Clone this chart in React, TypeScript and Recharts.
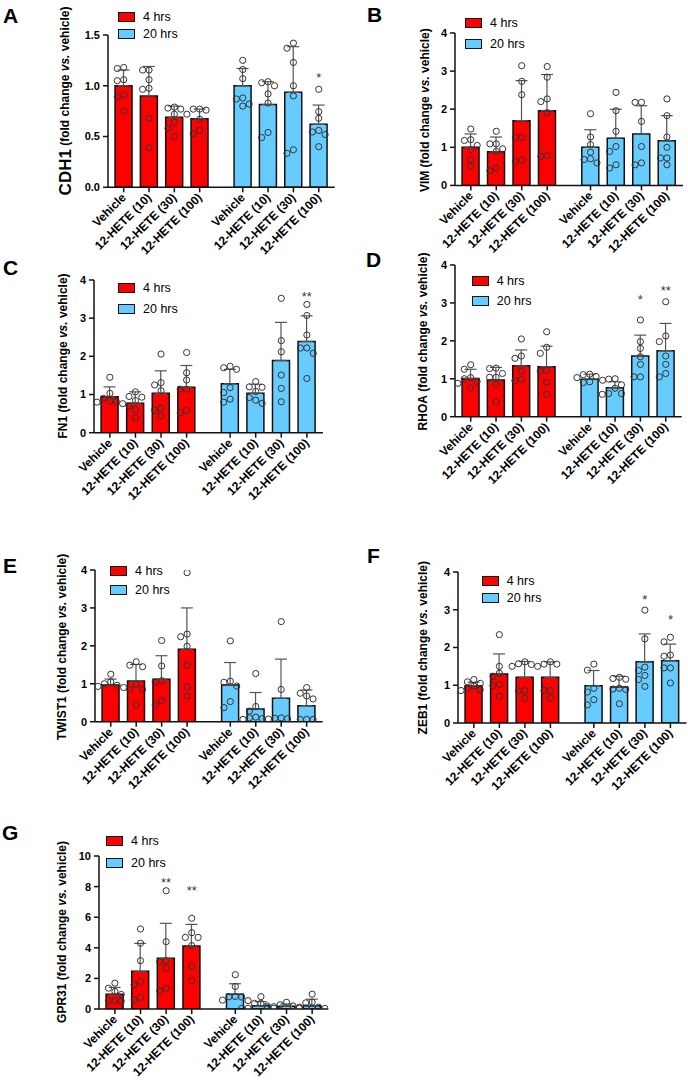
import React from "react";
import {
  ComposedChart,
  Bar,
  Cell,
  ErrorBar,
  Scatter,
  XAxis,
  YAxis,
  Legend,
} from "recharts";

const FONT = '"Liberation Sans", Arial, Helvetica, sans-serif';
const RED = "#ff0000";
const BLUE = "#66ccff";

const groups = ["4 hrs", "20 hrs"];
const doses = [
  "Vehicle",
  "12-HETE (10)",
  "12-HETE (30)",
  "12-HETE (100)",
  "Vehicle",
  "12-HETE (10)",
  "12-HETE (30)",
  "12-HETE (100)",
];

// CDH1
const cdh1Mean = [1.0, 0.9, 0.69, 0.675, 1.0, 0.815, 0.935, 0.62];
const cdh1Sd = [0.155, 0.29, 0.11, 0.095, 0.17, 0.225, 0.45, 0.19];
const cdh1Points = [
  [1.18, 1.17, 1.06, 1.05, 0.91, 0.89, 0.75],
  [1.155, 1.155, 1.06, 0.975, 0.965, 0.68, 0.39],
  [0.79, 0.78, 0.77, 0.72, 0.64, 0.58, 0.5],
  [0.77, 0.77, 0.76, 0.72, 0.67, 0.56, 0.53],
  [1.25, 1.16, 1.07, 0.88, 0.87, 0.82, 0.8],
  [1.04, 1.03, 1.0, 0.92, 0.83, 0.54, 0.49],
  [1.42, 1.37, 1.23, 1.0, 0.9, 0.335, 0.37],
  [0.965, 0.745, 0.68, 0.56, 0.545, 0.52, 0.4],
];
const cdh1Stars = [{ i: 7, v: 1.1, s: "*" }];

// VIM
const vimMean = [1.0, 0.88, 1.7, 1.96, 1.0, 1.24, 1.35, 1.17];
const vimSd = [0.35, 0.39, 1.05, 0.95, 0.46, 0.76, 0.74, 0.66];
const vimPoints = [
  [1.48, 1.2, 1.18, 1.05, 0.94, 0.67, 0.5],
  [1.42, 1.09, 1.09, 0.96, 0.89, 0.455, 0.385],
  [3.14, 2.73, 2.38, 1.26, 1.26, 0.66, 0.63],
  [3.12, 2.84, 2.27, 2.2, 1.91, 0.78, 0.76],
  [1.88, 1.27, 1.07, 0.87, 0.7, 0.68, 0.59],
  [2.44, 1.96, 1.42, 1.02, 0.89, 0.54, 0.455],
  [2.18, 2.18, 1.68, 1.02, 0.59, 0.54],
  [2.27, 1.83, 1.27, 1.0, 0.72, 0.72, 0.54],
];
const vimStars: { i: number; v: number; s: string }[] = [];

// FN1
const fn1Mean = [0.94, 0.77, 1.03, 1.19, 1.28, 1.03, 1.89, 2.39];
const fn1Sd = [0.26, 0.3, 0.59, 0.57, 0.38, 0.24, 1.0, 0.67];
const fn1Points = [
  [1.45, 1.03, 0.9, 0.83, 0.82, 0.8, 0.76],
  [1.07, 0.95, 0.93, 0.84, 0.7, 0.61, 0.39],
  [2.06, 1.31, 1.25, 1.1, 0.64, 0.59, 0.44],
  [2.1, 1.57, 1.38, 1.14, 1.14, 0.58, 0.52],
  [1.74, 1.7, 1.66, 1.18, 1.05, 0.88, 0.8],
  [1.34, 1.2, 1.19, 1.08, 0.92, 0.85, 0.77],
  [3.52, 2.41, 2.12, 1.51, 1.16, 0.81],
  [3.36, 3.07, 2.56, 2.22, 2.22, 2.08, 1.42],
];
const fn1Stars = [{ i: 7, v: 3.62, s: "**" }];

// RHOA
const rhoaMean = [1.01, 0.97, 1.34, 1.32, 0.99, 0.765, 1.6, 1.74];
const rhoaSd = [0.24, 0.33, 0.42, 0.54, 0.13, 0.155, 0.55, 0.72];
const rhoaPoints = [
  [1.37, 1.25, 1.03, 1.0, 0.93, 0.88, 0.76],
  [1.28, 1.27, 1.14, 1.04, 1.04, 0.85, 0.38],
  [2.05, 1.6, 1.54, 1.2, 0.98, 0.95],
  [2.24, 1.83, 1.67, 1.22, 1.2, 0.91, 0.59],
  [1.12, 1.11, 1.06, 1.03, 0.96, 0.92, 0.9],
  [1.0, 0.99, 0.84, 0.75, 0.61, 0.61, 0.59],
  [2.55, 1.98, 1.8, 1.58, 1.38, 1.05, 1.05],
  [3.03, 2.13, 1.98, 1.6, 1.38, 1.14, 1.05],
];
const rhoaStars = [
  { i: 6, v: 3.12, s: "*" },
  { i: 7, v: 3.38, s: "**" },
];

// TWIST1
const twist1Mean = [0.97, 1.07, 1.12, 1.91, 0.97, 0.335, 0.615, 0.42];
const twist1Sd = [0.155, 0.44, 0.62, 1.09, 0.59, 0.435, 1.035, 0.415];
const twist1Points = [
  [1.25, 1.05, 1.0, 0.96, 0.93, 0.9],
  [1.58, 1.49, 1.45, 0.98, 0.85, 0.85, 0.44],
  [2.14, 1.47, 1.08, 1.05, 0.56, 0.44],
  [3.93, 2.31, 2.24, 1.99, 1.49, 0.92, 0.68],
  [2.13, 1.07, 1.04, 0.94, 0.53, 0.37],
  [1.27, 0.4, 0.28, 0.12, 0.1, 0.08, 0.06],
  [2.64, 0.85, 0.1, 0.09, 0.08, 0.07],
  [0.9, 0.75, 0.68, 0.6, 0.06, 0.06, 0.06],
];
const twist1Stars: { i: number; v: number; s: string }[] = [];

// ZEB1
const zeb1Mean = [0.99, 1.3, 1.21, 1.21, 0.99, 0.955, 1.62, 1.65];
const zeb1Sd = [0.09, 0.53, 0.42, 0.41, 0.4, 0.285, 0.74, 0.44];
const zeb1Points = [
  [1.15, 1.09, 1.05, 0.98, 0.92, 0.88, 0.86],
  [2.34, 1.5, 1.32, 1.24, 1.02, 0.99, 0.71],
  [1.62, 1.57, 1.55, 1.5, 0.86, 0.85, 0.66],
  [1.62, 1.56, 1.56, 1.5, 0.86, 0.86, 0.66],
  [1.56, 1.4, 0.92, 0.82, 0.62, 0.48],
  [1.21, 1.18, 1.16, 0.92, 0.9, 0.89, 0.51],
  [2.99, 2.23, 1.48, 1.39, 1.26, 1.15, 0.97],
  [2.27, 2.15, 1.8, 1.77, 1.46, 1.46, 1.06],
];
const zeb1Stars = [
  { i: 6, v: 3.31, s: "*" },
  { i: 7, v: 2.78, s: "*" },
];

// GPR31
const gpr31Mean = [0.97, 2.46, 3.31, 4.12, 0.97, 0.22, 0.18, 0.22];
const gpr31Sd = [0.44, 1.83, 2.29, 1.41, 0.68, 0.26, 0.15, 0.42];
const gpr31Points = [
  [1.69, 1.36, 1.15, 0.95, 0.55, 0.55, 0.5],
  [5.23, 4.3, 3.16, 1.8, 1.58, 0.75, 0.59],
  [7.73, 4.4, 3.16, 3.09, 2.66, 1.35, 1.18],
  [5.93, 4.99, 4.68, 4.68, 4.14, 2.81, 1.85],
  [2.24, 1.47, 0.82, 0.8, 0.78, 0.58, 0.55],
  [0.81, 0.37, 0.37, 0.2, 0.05, 0.04, 0.05],
  [0.44, 0.28, 0.2, 0.15, 0.12, 0.1, 0.08],
  [0.97, 0.45, 0.4, 0.12, 0.05, 0.04, 0.03],
];
const gpr31Stars = [
  { i: 2, v: 8.37, s: "**" },
  { i: 3, v: 7.82, s: "**" },
];

const fourTicks = [0, 1, 2, 3, 4];

// layout
const GAP = 0.7; // extra space between the 4 hrs and 20 hrs groups
const slots = doses.map((_, i) => (i < 4 ? i : i + GAP));
const X_DOMAIN: [number, number] = [-0.62, 3 + GAP + 4 + 0.63];
const YW = 60;
const MT = 30;
const XH = 72;
const MR = 1;
const DOT = 6.4;
const AXIS = { stroke: "#111", strokeWidth: 1.5 };

type Star = { i: number; v: number; s: string };
type Panel = {
  letter: string;
  letterX: number;
  letterY: number;
  gene: string;
  geneSize: number;
  means: number[];
  sds: number[];
  points: number[][];
  stars: Star[];
  yMax: number;
  yTicks: number[];
  decimals: number;
  ax: number;
  yt: number;
  yb: number;
  xe: number;
  labelX: number;
  labelCy: number;
  legX: number;
  legY: number;
  legPitch: number;
};

const panels: Panel[] = [
  { letter: "A", letterX: 3, letterY: 5, gene: "CDH1", geneSize: 17, means: cdh1Mean, sds: cdh1Sd, points: cdh1Points, stars: cdh1Stars, yMax: 1.5, yTicks: [0, 0.5, 1, 1.5], decimals: 1, ax: 108.3, yt: 35, yb: 187.3, xe: 335, labelX: 65, labelCy: 101, legX: 118, legY: 12, legPitch: 16.5 },
  { letter: "B", letterX: 367, letterY: 4, gene: "VIM", geneSize: 12, means: vimMean, sds: vimSd, points: vimPoints, stars: vimStars, yMax: 4, yTicks: fourTicks, decimals: 0, ax: 455, yt: 33.3, yb: 185.7, xe: 683, labelX: 425, labelCy: 110.5, legX: 465, legY: 18, legPitch: 21 },
  { letter: "C", letterX: 3, letterY: 257, gene: "FN1", geneSize: 12, means: fn1Mean, sds: fn1Sd, points: fn1Points, stars: fn1Stars, yMax: 4, yTicks: fourTicks, decimals: 0, ax: 94, yt: 280, yb: 432.7, xe: 323, labelX: 63, labelCy: 356, legX: 118, legY: 283, legPitch: 21 },
  { letter: "D", letterX: 366, letterY: 249, gene: "RHOA", geneSize: 12, means: rhoaMean, sds: rhoaSd, points: rhoaPoints, stars: rhoaStars, yMax: 4, yTicks: fourTicks, decimals: 0, ax: 455, yt: 265, yb: 416.7, xe: 681.7, labelX: 423, labelCy: 341.5, legX: 471.7, legY: 276, legPitch: 20 },
  { letter: "E", letterX: 3, letterY: 555, gene: "TWIST1", geneSize: 12, means: twist1Mean, sds: twist1Sd, points: twist1Points, stars: twist1Stars, yMax: 4, yTicks: fourTicks, decimals: 0, ax: 95, yt: 570, yb: 721.7, xe: 322.7, labelX: 62, labelCy: 647, legX: 110, legY: 566, legPitch: 19 },
  { letter: "F", letterX: 367, letterY: 545, gene: "ZEB1", geneSize: 12, means: zeb1Mean, sds: zeb1Sd, points: zeb1Points, stars: zeb1Stars, yMax: 4, yTicks: fourTicks, decimals: 0, ax: 458, yt: 572.3, yb: 723.3, xe: 686.5, labelX: 423, labelCy: 648, legX: 481.7, legY: 575.7, legPitch: 17.3 },
  { letter: "G", letterX: 2, letterY: 822, gene: "GPR31", geneSize: 12, means: gpr31Mean, sds: gpr31Sd, points: gpr31Points, stars: gpr31Stars, yMax: 10, yTicks: [0, 2, 4, 6, 8, 10], decimals: 0, ax: 99, yt: 856, yb: 1009, xe: 328.3, labelX: 62, labelCy: 932, legX: 106, legY: 836, legPitch: 22 },
];

// spread overlapping dots sideways (pixel offsets), highest value first
function swarm(vals: number[], pxPerVal: number) {
  const placed: { dx: number; y: number }[] = [];
  return [...vals]
    .sort((a, b) => b - a)
    .map((v) => {
      const y = v * pxPerVal;
      for (const k of [0, -1, 1, -2, 2, -3, 3]) {
        const dx = k * DOT;
        if (placed.every((p) => Math.hypot(p.dx - dx, p.y - y) >= DOT)) {
          placed.push({ dx, y });
          return { v, dx };
        }
      }
      return { v, dx: 0 };
    });
}

const XTick = (props: any) => {
  const { x, y, payload } = props;
  let idx = slots.indexOf(payload.value);
  if (idx < 0) idx = payload.index ?? 0;
  const ax = x + 3;
  const ay = y + 4;
  return (
    <text
      x={ax}
      y={ay}
      transform={`rotate(-45 ${ax} ${ay})`}
      textAnchor="end"
      fontSize={12}
      fontWeight="bold"
      fontFamily={FONT}
      fill="#000"
    >
      {doses[idx]}
    </text>
  );
};

const renderDot = (props: any) => (
  <circle
    cx={props.cx + (props.payload?.dx ?? 0)}
    cy={props.cy}
    r={3.1}
    fill="none"
    stroke="#333"
    strokeWidth={1}
  />
);

const renderStar = (props: any) => (
  <text
    x={props.cx}
    y={props.cy + 6}
    textAnchor="middle"
    fontSize={13}
    fontFamily={FONT}
    fill="#333"
  >
    {props.payload?.s}
  </text>
);

function PanelChart({ p }: { p: Panel }) {
  const left = p.ax - YW;
  const top = p.yt - MT;
  const width = p.xe - left + MR;
  const height = p.yb - p.yt + MT + XH;
  const pxPerVal = (p.yb - p.yt) / p.yMax;

  const bars = p.means.map((m, i) => ({ x: slots[i], mean: m, err: [0, p.sds[i]] }));
  const dots = p.points.flatMap((vals, i) =>
    swarm(vals, pxPerVal).map((d) => ({ x: slots[i], v: d.v, dx: d.dx }))
  );
  const stars = p.stars.map((s) => ({ x: slots[s.i], v: s.v, s: s.s }));

  const lx = p.labelX - left;
  const ly = p.labelCy - top;
  const yLabel = () => (
    <text
      x={lx}
      y={ly}
      transform={`rotate(-90 ${lx} ${ly})`}
      textAnchor="middle"
      dominantBaseline="central"
      fontWeight="bold"
      fontFamily={FONT}
      fill="#000"
    >
      <tspan fontSize={p.geneSize}>{p.gene}</tspan>
      <tspan fontSize={12}> (fold change </tspan>
      <tspan fontSize={12} fontStyle="italic">vs.</tspan>
      <tspan fontSize={12}> vehicle)</tspan>
    </text>
  );

  const legend = () => (
    <div style={{ fontFamily: FONT, fontSize: 12.5, color: "#000" }}>
      {groups.map((g, i) => (
        <div
          key={g}
          style={{ display: "flex", alignItems: "center", height: p.legPitch }}
        >
          <span
            style={{
              display: "inline-block",
              width: 17,
              height: 10,
              boxSizing: "border-box",
              border: "1.5px solid #111",
              background: i === 0 ? RED : BLUE,
              marginRight: 8,
            }}
          />
          <span>{g}</span>
        </div>
      ))}
    </div>
  );

  return (
    <div style={{ position: "absolute", left, top }}>
      <ComposedChart
        width={width}
        height={height}
        data={bars}
        margin={{ top: MT, right: MR, bottom: 0, left: 0 }}
      >
        <XAxis
          dataKey="x"
          type="number"
          domain={X_DOMAIN}
          allowDataOverflow
          ticks={slots}
          interval={0}
          height={XH}
          tickSize={5}
          tick={<XTick />}
          axisLine={AXIS}
          tickLine={AXIS}
        />
        <YAxis
          type="number"
          domain={[0, p.yMax]}
          allowDataOverflow
          ticks={p.yTicks}
          interval={0}
          width={YW}
          tickSize={5}
          tickMargin={3}
          tickFormatter={(v: number) => v.toFixed(p.decimals)}
          tick={{ fontSize: 11, fontWeight: "bold", fill: "#000", fontFamily: FONT }}
          axisLine={AXIS}
          tickLine={AXIS}
          label={yLabel}
        />
        <Legend
          layout="horizontal"
          verticalAlign="middle"
          align="center"
          content={legend}
          wrapperStyle={{
            left: p.legX - left,
            top: p.legY - (p.legPitch - 10) / 2 - top,
            width: "auto",
          }}
        />
        <Bar
          dataKey="mean"
          barSize={17}
          stroke="#111"
          strokeWidth={1.5}
          isAnimationActive={false}
        >
          {bars.map((_, i) => (
            <Cell key={i} fill={i < 4 ? RED : BLUE} />
          ))}
          <ErrorBar
            dataKey="err"
            direction="y"
            width={6}
            stroke="#555"
            strokeWidth={1.2}
            isAnimationActive={false}
          />
        </Bar>
        <Scatter data={dots} dataKey="v" shape={renderDot} isAnimationActive={false} />
        <Scatter data={stars} dataKey="v" shape={renderStar} isAnimationActive={false} />
      </ComposedChart>
    </div>
  );
}

export default function App() {
  return (
    <div
      style={{
        position: "absolute",
        left: 0,
        top: 0,
        width: 688,
        height: 1080,
        overflow: "hidden",
        background: "#fff",
        fontFamily: FONT,
      }}
    >
      {panels.map((p) => (
        <div
          key={p.letter}
          style={{
            position: "absolute",
            left: p.letterX,
            top: p.letterY,
            fontSize: 21,
            lineHeight: 1,
            fontWeight: "bold",
            color: "#000",
          }}
        >
          {p.letter}
        </div>
      ))}
      {panels.map((p) => (
        <PanelChart key={p.gene} p={p} />
      ))}
    </div>
  );
}
